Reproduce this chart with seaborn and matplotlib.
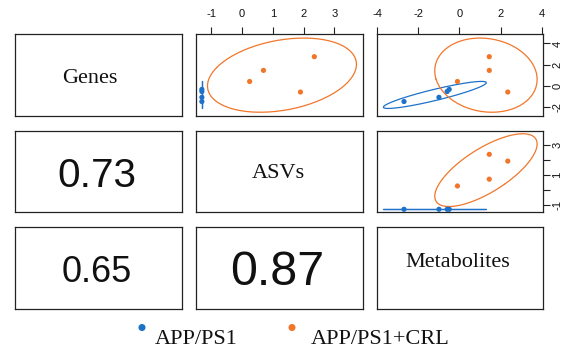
import numpy as np
import pandas as pd
import matplotlib
matplotlib.use("Agg")
import matplotlib.pyplot as plt
import seaborn as sns

# ---------------- data ----------------
groups = ["APP/PS1", "APP/PS1+CRL"]
variables = ["Genes", "ASVs", "Metabolites"]

genes_app = [-1.5, -1.1, -0.55, -0.35]
asvs_app = [-1.3, -1.3, -1.3, -1.3]
metab_app = [-2.7, -1.0, -0.6, -0.5]

genes_crl = [0.4, 1.45, 2.75, -0.6]
asvs_crl = [0.25, 0.7, 2.35, 1.9]
metab_crl = [-0.1, 1.45, 1.45, 2.35]

# correlations shown in the lower panels: (row, col, value)
corr_rows = [1, 2, 2]
corr_cols = [0, 0, 1]
corr_vals = [0.73, 0.65, 0.87]

colors = ["#1d72c8", "#f2762a"]

df = pd.DataFrame({
    "group": [groups[0]] * 4 + [groups[1]] * 4,
    "Genes": genes_app + genes_crl,
    "ASVs": asvs_app + asvs_crl,
    "Metabolites": metab_app + metab_crl,
})

limits = {"Genes": (-2.9, 4.9), "ASVs": (-1.5, 3.92), "Metabolites": (-4.0, 4.05)}

# ---------------- style ----------------
sns.set_theme(style="white")
plt.rcParams["font.family"] = ["Liberation Sans", "DejaVu Sans"]
plt.rcParams["axes.unicode_minus"] = False
SERIF = ["Liberation Serif", "DejaVu Serif"]

W, H = 584, 349
fig = plt.figure(figsize=(W / 100, H / 100), dpi=100)

col_px = [(15, 182.3), (195.7, 362.7), (377.3, 542.7)]
row_px = [(34, 116.3), (130.7, 212.3), (227.3, 308.7)]

axes = {}
for i, (t, b) in enumerate(row_px):
    for j, (l, r) in enumerate(col_px):
        ax = fig.add_axes([l / W, 1 - b / H, (r - l) / W, (b - t) / H])
        for s in ax.spines.values():
            s.set_color("#222222")
            s.set_linewidth(0.9)
        ax.set_xticks([])
        ax.set_yticks([])
        axes[(i, j)] = ax


def ellipse(x, y, n=200):
    xy = np.column_stack([x, y])
    mu = xy.mean(axis=0)
    cov = np.cov(xy, rowvar=False)
    w, v = np.linalg.eigh(cov)
    w = np.clip(w, 0, None)
    r = np.sqrt(-2 * np.log(0.05))
    t = np.linspace(0, 2 * np.pi, n)
    circ = np.vstack([np.cos(t), np.sin(t)])
    pts = (v @ np.diag(np.sqrt(w)) @ circ) * r
    return mu[0] + pts[0], mu[1] + pts[1]


# upper panels
for i in range(3):
    for j in range(3):
        if j <= i:
            continue
        ax = axes[(i, j)]
        xv, yv = variables[j], variables[i]
        for g, c in zip(groups, colors):
            sub = df[df["group"] == g]
            ex, ey = ellipse(sub[xv].values, sub[yv].values)
            ax.plot(ex, ey, color=c, lw=0.9, zorder=2)
        sns.scatterplot(data=df, x=xv, y=yv, hue="group", palette=colors,
                        hue_order=groups, s=14, edgecolor="none", legend=False,
                        ax=ax, zorder=3)
        ax.set_xlim(limits[xv])
        ax.set_ylim(limits[yv])
        ax.set_xlabel("")
        ax.set_ylabel("")

tick_kw = dict(length=5, width=0.8, color="#222222", labelsize=8, labelcolor="#111111")

# top axes
ax = axes[(0, 1)]
ax.xaxis.tick_top()
ax.set_xticks([-1, 0, 1, 2, 3])
ax.tick_params(axis="x", top=True, bottom=False, direction="out", pad=6, **tick_kw)
ax.set_yticks([])

ax = axes[(0, 2)]
ax.xaxis.tick_top()
ax.set_xticks([-4, -2, 0, 2, 4])
ax.tick_params(axis="x", top=True, bottom=False, direction="out", pad=6, **tick_kw)
ax.yaxis.tick_right()
ax.set_yticks([-2, 0, 2, 4])
ax.tick_params(axis="y", right=True, left=False, direction="out", pad=2,
               labelrotation=90, **tick_kw)
for lab in ax.get_yticklabels():
    lab.set_va("center")

ax = axes[(1, 2)]
ax.set_xticks([])
ax.yaxis.tick_right()
ax.set_yticks([-1, 0, 1, 2, 3])
ax.set_yticklabels(["-1", "", "1", "", "3"])
ax.tick_params(axis="y", right=True, left=False, direction="out", pad=2,
               labelrotation=90, **tick_kw)
for lab in ax.get_yticklabels():
    lab.set_va("center")

# diagonal labels
diag_pos = [(0.445, 0.46), (0.495, 0.48), (0.485, 0.565)]
for k, name in enumerate(variables):
    ax = axes[(k, k)]
    ax.text(diag_pos[k][0], diag_pos[k][1], name, transform=ax.transAxes,
            ha="center", va="center", fontsize=16, family=SERIF, color="#111111")

# correlation panels
for r_, c_, v in zip(corr_rows, corr_cols, corr_vals):
    ax = axes[(r_, c_)]
    ax.text(0.49, 0.45, f"{v:.2f}", transform=ax.transAxes, ha="center",
            va="center", fontsize=40 * v, color="#111111")

# legend
lax = fig.add_axes([0, 0, 1, 1], zorder=-1)
lax.set_xlim(0, W)
lax.set_ylim(H, 0)
lax.axis("off")
leg_x = [142, 292]
text_x = [155, 311]
for g, c, mx, tx in zip(groups, colors, leg_x, text_x):
    lax.scatter([mx], [327.5], s=26, color=c, edgecolor="none")
    lax.text(tx, 344.5, g, ha="left", va="baseline", fontsize=16, family=SERIF,
             color="#111111")

fig.savefig("out.png", dpi=100)
